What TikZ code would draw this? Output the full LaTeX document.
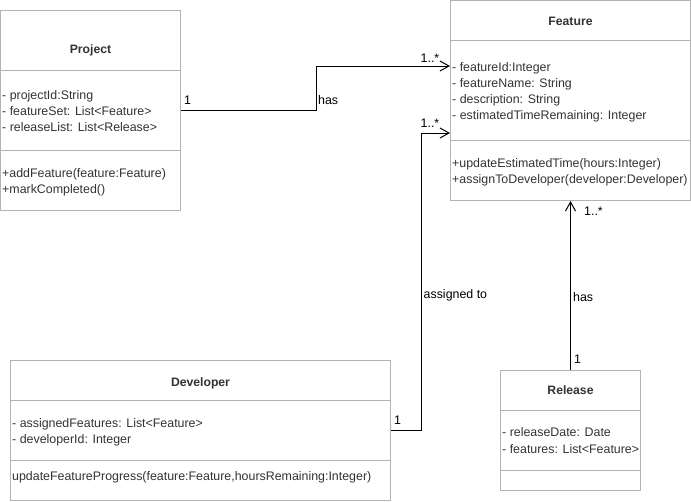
\documentclass[tikz,border=0pt]{standalone}
\usepackage{fontspec}
\setmainfont{Liberation Sans}
\usetikzlibrary{calc,arrows.meta}
\definecolor{boxline}{HTML}{B3B3B3}
\definecolor{boxtext}{HTML}{333333}
\tikzset{
  classbox/.style={draw=boxline, line width=1pt, fill=white, inner sep=0pt, rectangle},
  divider/.style={draw=boxline, line width=1pt},
  header/.style={inner sep=0pt, anchor=base, text=boxtext, font=\fontsize{12.2}{14}\selectfont\bfseries},
  member/.style={inner sep=0pt, anchor=base west, text=boxtext, font=\fontsize{12.4}{14}\selectfont},
  lbl/.style={inner sep=0pt, anchor=base west, text=black, font=\fontsize{12.4}{14}\selectfont},
  assoc/.style={draw=black, line width=1pt, -{Straight Barb[length=9pt,width=10pt,line width=1pt]}}
}
\begin{document}
\begin{tikzpicture}[x=1pt,y=-1pt]
\useasboundingbox (0,0) rectangle (691,501);

% Project
\node[classbox, minimum width=180pt, minimum height=200pt] (project) at (90.5,110.5) {};
\draw[divider] (0.5,70.5) -- (180.5,70.5);
\draw[divider] (0.5,150.5) -- (180.5,150.5);
\node[header] (projectT) at (90.5,53.5) {Project};
\node[member] (p1) at (2,99) {- projectId:String};
\node[member] (p2) at (2,115) {- featureSet: List<Feature>};
\node[member] (p3) at (2,131) {- releaseList: List<Release>};
\node[member] (p4) at (2,177.5) {+addFeature(feature:Feature)};
\node[member] (p5) at (2,193.5) {+markCompleted()};

% Feature
\node[classbox, minimum width=240pt, minimum height=200pt] (feature) at (570.5,100.5) {};
\draw[divider] (450.5,40.5) -- (690.5,40.5);
\draw[divider] (450.5,140.5) -- (690.5,140.5);
\node[header] (featureT) at (570.5,25) {Feature};
\node[member] (f1) at (452,71) {- featureId:Integer};
\node[member] (f2) at (452,87) {- featureName: String};
\node[member] (f3) at (452,103) {- description: String};
\node[member] (f4) at (452,119) {- estimatedTimeRemaining: Integer};
\node[member] (f5) at (452,167.5) {+updateEstimatedTime(hours:Integer)};
\node[member] (f6) at (452,183.5) {+assignToDeveloper(developer:Developer)};

% Developer
\node[classbox, minimum width=380pt, minimum height=140pt] (developer) at (200.5,430.5) {};
\draw[divider] (10.5,400.5) -- (390.5,400.5);
\draw[divider] (10.5,460.5) -- (390.5,460.5);
\node[header] (developerT) at (200.5,386) {Developer};
\node[member] (d1) at (12,427) {- assignedFeatures: List<Feature>};
\node[member] (d2) at (12,443.5) {- developerId: Integer};
\node[member] (d3) at (12,480) {updateFeatureProgress(feature:Feature,hoursRemaining:Integer)};

% Release
\node[classbox, minimum width=140pt, minimum height=120pt] (release) at (570.5,430.5) {};
\draw[divider] (500.5,410.5) -- (640.5,410.5);
\draw[divider] (500.5,470.5) -- (640.5,470.5);
\node[header] (releaseT) at (570.5,394.5) {Release};
\node[member] (r1) at (502,436.5) {- releaseDate: Date};
\node[member] (r2) at (502,453) {- features: List<Feature>};

% Associations
\draw[assoc] (project.east) -- ++(135.5,0) |- ($(feature.north west)+(0,66)$);
\draw[assoc] (developer.east) -- ++(30.5,0) |- ($(feature.north west)+(0,133)$);
\draw[assoc] (release.north) -- (feature.south);

% Labels
\node[lbl] (l1) at (184,104) {1};
\node[lbl] (l2) at (318,104) {has};
\node[lbl] (l3) at (420.5,62) {1..*};
\node[lbl] (l4) at (420.5,127.5) {1..*};
\node[lbl] (l5) at (394,424) {1};
\node[lbl] (l6) at (423.5,298.5) {assigned to};
\node[lbl] (l7) at (573,301) {has};
\node[lbl] (l8) at (574,363.5) {1};
\node[lbl] (l9) at (584,215) {1..*};
\end{tikzpicture}
\end{document}
